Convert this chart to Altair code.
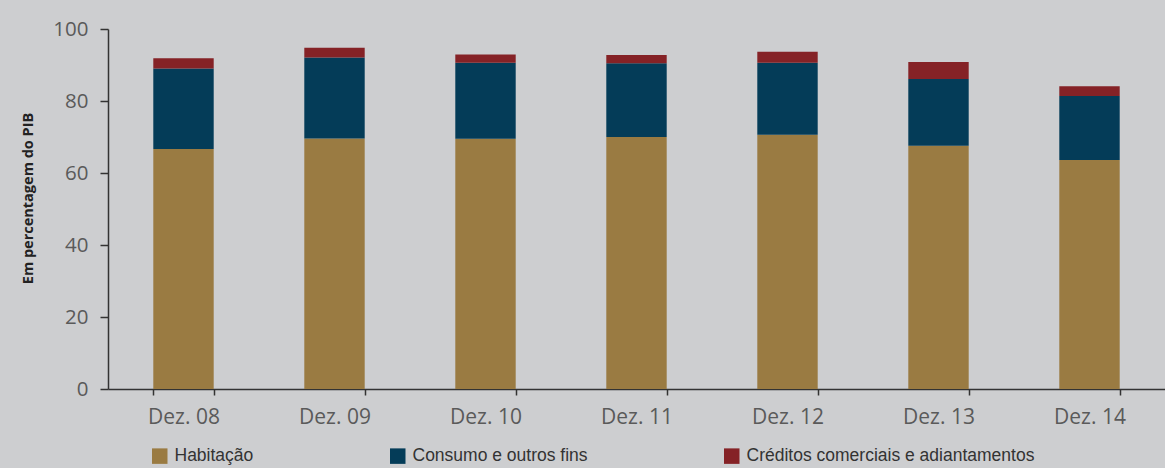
import altair as alt
import pandas as pd

periods = ["Dez. 08", "Dez. 09", "Dez. 10", "Dez. 11", "Dez. 12", "Dez. 13", "Dez. 14"]
series = ["Habitação", "Consumo e outros fins", "Créditos comerciais e adiantamentos"]
habitacao = [66.7, 69.6, 69.5, 70.0, 70.6, 67.6, 63.6]
consumo = [22.3, 22.5, 21.1, 20.5, 20.0, 18.5, 17.8]
creditos = [2.9, 2.7, 2.3, 2.3, 3.1, 4.7, 2.7]
colors = ["#9A7B42", "#043C58", "#852226"]

rows = []
for i, p in enumerate(periods):
    for k, (s, vals) in enumerate(zip(series, [habitacao, consumo, creditos])):
        rows.append({"periodo": p, "serie": s, "valor": vals[i], "ord": k})
df = pd.DataFrame(rows)

chart = alt.Chart(df).mark_bar().encode(
    x=alt.X("periodo:N", sort=periods, title=None,
            scale=alt.Scale(paddingInner=0.6, paddingOuter=0.3),
            axis=alt.Axis(labelAngle=0, tickBand="extent", domainColor="#333333",
                          tickColor="#333333", tickSize=6, tickWidth=1.5, domainWidth=1.5,
                          labelFont="Open Sans", labelFontSize=21, labelColor="#5a5a5a",
                          labelPadding=11)),
    y=alt.Y("valor:Q", stack="zero", title="Em percentagem do PIB",
            scale=alt.Scale(domain=[0, 100]),
            axis=alt.Axis(values=[0, 20, 40, 60, 80, 100], grid=False,
                          domainColor="#333333", tickColor="#333333", tickSize=8,
                          tickWidth=1.5, domainWidth=1.5,
                          labelFont="Open Sans", labelFontSize=20.5, labelColor="#5a5a5a",
                          labelPadding=12,
                          titleFont="Open Sans", titleFontSize=14.5, titleFontWeight="bold",
                          titleColor="#222222", titleAngle=-90, titleX=-80, titleY=169,
                          titleAlign="center", titleBaseline="middle")),
    color=alt.Color("serie:N", sort=series,
                    scale=alt.Scale(domain=series, range=colors),
                    legend=alt.Legend(title=None, orient="none", legendX=43, legendY=418,
                                      direction="horizontal", symbolType="square",
                                      symbolSize=240, symbolStrokeWidth=0, symbolOpacity=1,
                                      labelFont="Liberation Sans",
                                      labelFontSize=17.5, labelColor="#333333",
                                      columnPadding=135, labelOffset=6, labelLimit=400)),
    order=alt.Order("ord:Q", sort="ascending"),
).properties(
    width=1057, height=360,
    autosize=alt.AutoSizeParams(type="none"),
    padding={"left": 108, "top": 29, "right": 0, "bottom": 79},
    background="#CDCED0",
).configure_view(stroke=None)

chart.save("out.html", embed_options={"renderer": "svg", "actions": False})
